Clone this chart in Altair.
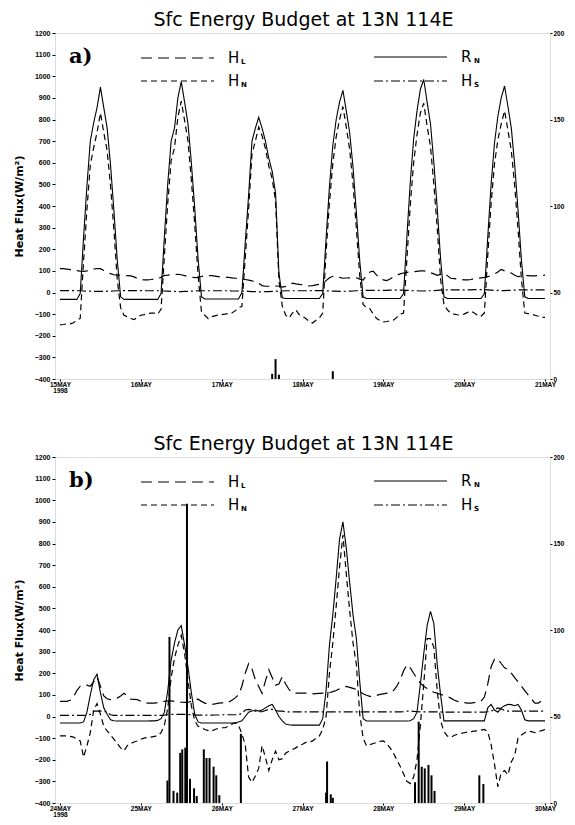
import altair as alt
import pandas as pd

HOURS = list(range(145))
YEAR = "1998"
DAYS_A = ["15MAY", "16MAY", "17MAY", "18MAY", "19MAY", "20MAY", "21MAY"]
DAYS_B = ["24MAY", "25MAY", "26MAY", "27MAY", "28MAY", "29MAY", "30MAY"]
TITLE = "Sfc Energy Budget at 13N 114E"
Y_TICKS = list(range(-400, 1201, 100))
R_TICKS = [0, 50, 100, 150, 200]

# ---------------- panel a (15-21 May 1998), hourly ----------------
RN_A = [
    -32, -32, -32, -32, -32, -32, -5, 255, 495, 700, 785, 855, 950, 855, 760, 590, 380, 150, -20, -32, -32, -32, -32, -32,
    -32, -32, -32, -32, -32, -32, -5, 260, 505, 700, 760, 900, 975, 880, 780, 600, 390, 155, -20, -30, -30, -30, -30, -30,
    -30, -30, -30, -30, -30, -30, 0, 230, 450, 700, 760, 810, 760, 700, 620, 560, 460, 90, -25, -28, -28, -28, -28, -28,
    -28, -28, -28, -28, -28, -28, -5, 250, 490, 680, 800, 880, 935, 840, 740, 580, 370, 145, -20, -28, -28, -28, -28, -28,
    -28, -28, -28, -28, -28, -28, -5, 260, 510, 710, 840, 940, 985, 880, 780, 600, 390, 155, -20, -28, -28, -28, -28, -28,
    -28, -28, -28, -28, -28, -28, -5, 255, 500, 690, 815, 900, 955, 860, 760, 590, 380, 150, -20, -28, -28, -28, -28, -28,
    -28]
HN_A = [
    -150, -148, -145, -145, -140, -128, -120, 145, 385, 590, 670, 740, 830, 740, 655, 495, 290, 60, -70, -105, -112, -120, -125, -115,
    -105, -102, -98, -95, -95, -100, -78, 170, 415, 610, 670, 810, 885, 795, 700, 520, 315, 80, -90, -105, -121, -112, -108, -104,
    -102, -100, -97, -95, -85, -70, -65, 160, 385, 640, 700, 765, 725, 665, 585, 525, 425, 55, -64, -105, -118, -95, -80, -102,
    -110, -120, -135, -141, -128, -118, -95, 185, 415, 597, 720, 800, 860, 765, 662, 500, 295, 75, -55, -70, -75, -100, -120, -130,
    -136, -134, -131, -128, -115, -100, -95, 155, 405, 600, 730, 830, 875, 770, 675, 500, 300, 60, -55, -80, -95, -100, -103, -105,
    -100, -92, -86, -95, -105, -110, -95, 170, 410, 595, 705, 780, 840, 750, 655, 495, 290, 60, -95, -98, -100, -105, -110, -115,
    -115]
HL_A = [
    110, 110, 108, 106, 104, 101, 99, 98, 100, 104, 108, 111, 110, 102, 94, 87, 82, 80, 80, 79, 78, 77, 72, 65,
    60, 58, 58, 60, 63, 66, 70, 79, 80, 82, 83, 84, 82, 78, 74, 71, 69, 70, 74, 78, 78, 78, 76, 73,
    70, 70, 70, 68, 66, 64, 62, 60, 57, 54, 52, 42, 32, 29, 29, 30, 30, 29, 25, 28, 36, 43, 40, 38,
    35, 33, 30, 32, 35, 38, 40, 55, 68, 75, 72, 70, 66, 67, 68, 69, 68, 62, 58, 79, 95, 99, 80, 66,
    58, 55, 62, 73, 80, 86, 90, 93, 95, 96, 98, 100, 100, 98, 92, 86, 79, 84, 90, 78, 66, 64, 62, 60,
    58, 58, 60, 64, 66, 68, 70, 73, 78, 85, 95, 107, 100, 95, 90, 80, 73, 76, 79, 78, 77, 77, 78, 79,
    80]
HS_A = [
    9, 9, 9, 9, 9, 8, 8, 7, 6, 6, 5, 5, 5, 5, 6, 6, 7, 8, 8, 9, 9, 9, 9, 9,
    9, 8, 8, 8, 8, 8, 8, 7, 6, 5, 5, 4, 4, 5, 5, 6, 7, 8, 8, 8, 8, 8, 8, 8,
    8, 8, 8, 7, 7, 7, 7, 6, 5, 4, 4, 3, 3, 4, 4, 5, 6, 7, 7, 8, 8, 8, 8, 8,
    8, 8, 8, 9, 9, 9, 9, 8, 7, 6, 6, 5, 5, 6, 6, 7, 8, 9, 10, 10, 10, 10, 10, 10,
    10, 10, 11, 11, 11, 11, 11, 10, 9, 8, 8, 7, 7, 8, 8, 9, 10, 11, 11, 12, 12, 12, 12, 12,
    12, 12, 12, 13, 13, 13, 13, 12, 11, 10, 10, 9, 9, 10, 10, 11, 12, 12, 12, 12, 12, 12, 12, 12,
    12]
RAIN_A_HOUR = [63.0, 64.0, 65.0, 81.0]
RAIN_A = [3, 11.5, 2.5, 4.5]

# ---------------- panel b (24-30 May 1998), hourly ----------------
RN_B = [
    -30, -30, -30, -30, -30, -30, -30, -25, 20, 100, 170, 195, 110, 40, 10, -15, -20, -21, -21, -21, -21, -21, -21, -21,
    -21, -21, -21, -20, -20, -18, -10, 20, 120, 260, 340, 400, 420, 330, 230, 110, 10, -25, -30, -30, -30, -30, -30, -30,
    -30, -30, -30, -30, -30, -25, -20, 0, 20, 25, 30, 25, 30, 40, 50, 56, 30, 0, -20, -35, -38, -40, -40, -40,
    -40, -40, -40, -40, -40, -40, -10, 120, 330, 470, 640, 820, 900, 780, 620, 470, 360, 160, -10, -21, -21, -21, -21, -21,
    -21, -21, -21, -21, -21, -21, -21, -21, -20, -10, 20, 150, 290, 420, 486, 430, 240, 100, -20, -20, -20, -20, -20, -20,
    -20, -20, -20, -20, -20, -20, -20, 40, 56, 30, 20, 40, 50, 56, 55, 50, 56, 30, -15, -20, -20, -20, -20, -20,
    -20]
HN_B = [
    -90, -90, -90, -92, -95, -105, -113, -188, -135, -75, 30, 60, 10, -45, -67, -85, -105, -125, -145, -158, -135, -125, -118, -113,
    -105, -100, -97, -95, -92, -90, -75, -40, 40, 180, 270, 330, 375, 290, 170, 50, -20, -45, -51, -60, -65, -67, -60, -55,
    -52, -52, -45, -35, -29, -40, -80, -130, -280, -305, -275, -240, -135, -190, -250, -200, -160, -200, -195, -170, -160, -153, -145, -135,
    -128, -120, -118, -113, -100, -90, -60, 0, 200, 340, 510, 690, 840, 660, 490, 340, 240, 10, -100, -135, -130, -125, -120, -115,
    -113, -125, -145, -170, -200, -230, -265, -300, -310, -280, -200, -40, 150, 360, 360, 320, 120, -20, -70, -90, -97, -88, -82, -78,
    -75, -72, -70, -68, -66, -63, -60, -70, -130, -220, -325, -260, -250, -270, -210, -180, -100, -85, -75, -67, -70, -75, -70, -65,
    -60]
HL_B = [
    70, 70, 70, 75, 90, 120, 140, 145, 145, 140, 160, 185, 140, 95, 82, 78, 80, 85, 95, 107, 95, 80, 79, 78,
    70, 65, 62, 62, 62, 64, 68, 70, 72, 72, 70, 68, 66, 65, 66, 70, 78, 80, 70, 62, 57, 55, 58, 62,
    63, 62, 65, 75, 86, 100, 140, 200, 245, 220, 170, 139, 107, 165, 216, 180, 145, 150, 184, 150, 125, 110, 108, 108,
    108, 108, 106, 105, 106, 107, 108, 108, 110, 115, 120, 128, 135, 139, 135, 130, 125, 115, 105, 98, 93, 93, 97, 102,
    105, 108, 108, 120, 140, 170, 210, 240, 225, 200, 175, 154, 140, 130, 120, 112, 108, 102, 98, 94, 85, 76, 70, 66,
    64, 62, 62, 64, 66, 70, 90, 150, 230, 265, 268, 245, 225, 218, 200, 180, 160, 140, 120, 100, 80, 62, 62, 72,
    80]
HS_B = [
    5, 5, 5, 5, 5, 5, 5, 5, 6, 10, 25, 25, 25, 25, 20, 8, 5, 5, 5, 5, 5, 5, 5, 5,
    5, 5, 5, 5, 5, 5, 5, 6, 8, 10, 10, 10, 10, 10, 9, 8, 7, 6, 6, 6, 6, 6, 7, 7,
    8, 8, 8, 8, 8, 8, 15, 30, 33, 30, 25, 22, 22, 28, 33, 33, 28, 25, 25, 22, 21, 21, 21, 21,
    21, 21, 21, 21, 21, 21, 21, 21, 21, 21, 21, 21, 21, 21, 21, 21, 21, 21, 21, 21, 21, 21, 21, 21,
    21, 21, 21, 21, 21, 21, 22, 25, 25, 24, 22, 21, 21, 21, 21, 21, 21, 21, 20, 20, 20, 20, 20, 20,
    20, 20, 20, 20, 20, 20, 20, 22, 26, 30, 40, 35, 28, 25, 25, 25, 25, 25, 25, 25, 25, 25, 25, 25,
    25]
RAIN_B_HOUR = [31.9, 32.5, 33.7, 34.8, 35.7, 36.3, 37.2, 37.7, 38.6, 39.8, 40.6,
               42.7, 43.5, 44.4, 45.6, 46.4, 47.3, 53.7,
               79.0, 79.3, 80.4, 81.0,
               105.4, 106.5, 107.4, 108.3, 109.4, 110.3, 111.2,
               124.5, 125.7]
RAIN_B = [13, 96, 7, 6, 29, 31, 32, 173, 14, 8.5, 4,
          31, 26, 26, 21, 16, 4.5, 40,
          6, 24, 5, 3,
          12, 47, 21, 20, 22, 16, 7,
          16, 11]

W, H = 495, 346
TICK_FONT = "Liberation Sans"


def label_expr(days):
    parts = []
    for i, d in enumerate(days):
        lab = "['%s','%s']" % (d, YEAR) if i == 0 else "'%s'" % d
        parts.append("datum.value == %d ? %s : " % (i * 24, lab))
    return "".join(parts) + "''"


def panel(rn, hn, hl, hs, rain_h, rain_v, days, tag):
    df = pd.DataFrame({"h": HOURS, "RN": rn, "HN": hn, "HL": hl, "HS": hs})
    rain = pd.DataFrame({"h": rain_h, "r": rain_v})
    one = pd.DataFrame({"k": [0]})

    xs = alt.Scale(domain=[0, 144], nice=False, zero=False)
    ys = alt.Scale(domain=[-400, 1200], nice=False, zero=False)
    rs = alt.Scale(domain=[0, 200], nice=False)

    xaxis = alt.Axis(values=[i * 24 for i in range(7)], labelExpr=label_expr(days),
                     title=None, labelFont=TICK_FONT, labelFontSize=6.5, labelFontWeight="bold",
                     labelColor="black", tickColor="black", tickSize=2, labelPadding=0,
                     labelFlush=False, labelOverlap=False, labelBound=False,
                     labelAngle=0, labelLineHeight=6.5, grid=False, domain=False)
    yaxis = alt.Axis(values=Y_TICKS, format="d", title="Heat Flux(W/m²)",
                     titleFont="DejaVu Sans", titleFontSize=11, titleFontWeight="bold",
                     titleColor="black", titlePadding=10, labelFont=TICK_FONT,
                     labelFontSize=7, labelFontWeight="bold", labelColor="black",
                     tickColor="black", tickSize=3, labelPadding=2, grid=False, domain=False,
                     labelOverlap=False, labelBound=False, labelFlush=False)
    raxis = alt.Axis(values=R_TICKS, format="d", orient="right", title=None,
                     labelFont=TICK_FONT, labelFontSize=6.5, labelFontWeight="bold",
                     labelColor="black", tickColor="black", tickSize=2, labelPadding=1,
                     grid=False, domain=False, labelOverlap=False, labelBound=False,
                     labelFlush=False)

    base = alt.Chart(df)

    def ln(col, dash):
        if dash:
            m = base.mark_line(color="black", strokeWidth=1.2, strokeDash=dash)
        else:
            m = base.mark_line(color="black", strokeWidth=1.1)
        return m.encode(
            x=alt.X("h:Q", scale=xs, axis=xaxis),
            y=alt.Y(col + ":Q", scale=ys, axis=yaxis),
        )

    lines = alt.layer(
        ln("HS", [9, 3, 2, 3]),
        ln("HL", [11, 6]),
        ln("HN", [6, 4]),
        ln("RN", None),
    )
    bars = alt.Chart(rain).mark_bar(color="black", size=2).encode(
        x=alt.X("h:Q", scale=xs, axis=xaxis),
        y=alt.Y("r:Q", scale=rs, axis=raxis),
    )

    # title and in-plot key (positions in pixels of the plot area)
    lb = alt.Chart(one)
    deco = [lb.mark_text(text=TITLE, font="DejaVu Sans", fontSize=19, align="center",
                         baseline="alphabetic", color="black").encode(
        x=alt.value(W / 2 + 1), y=alt.value(-7))]
    rows = [("H", "L", [11, 6], 25, 86), ("H", "N", [6, 4], 48, 86),
            ("R", "N", None, 24, 319), ("H", "S", [9, 3, 2, 3], 48, 319)]
    for big, sub, dash, yy, x0 in rows:
        kw = dict(color="black", strokeWidth=1.2)
        if dash:
            kw["strokeDash"] = dash
        deco.append(lb.mark_rule(**kw).encode(x=alt.value(x0), x2=alt.value(x0 + 73), y=alt.value(yy)))
        deco.append(lb.mark_text(text=big, font="DejaVu Sans", fontSize=15, align="left",
                                 baseline="middle", color="black").encode(
            x=alt.value(x0 + 87), y=alt.value(yy)))
        deco.append(lb.mark_text(text=sub, font="DejaVu Sans", fontSize=7, fontWeight="bold",
                                 align="left", baseline="middle", color="black").encode(
            x=alt.value(x0 + 100), y=alt.value(yy + 4)))
    deco.append(lb.mark_text(text=tag, font="DejaVu Serif", fontSize=21, fontWeight="bold",
                             align="left", baseline="middle", color="black").encode(
        x=alt.value(14), y=alt.value(24)))

    return alt.layer(lines, bars, *deco).resolve_scale(y="independent").properties(
        width=W, height=H)


pa = panel(RN_A, HN_A, HL_A, HS_A, RAIN_A_HOUR, RAIN_A, DAYS_A, "a)")
pb = panel(RN_B, HN_B, HL_B, HS_B, RAIN_B_HOUR, RAIN_B, DAYS_B, "b)")

chart = alt.vconcat(pa, pb, spacing=39).properties(
    padding={"left": 4, "top": 2, "right": 0, "bottom": 0}
).configure_view(stroke="black", strokeWidth=1.6).configure(background="white")

chart.save("out.html", embed_options={"renderer": "svg", "actions": False})
